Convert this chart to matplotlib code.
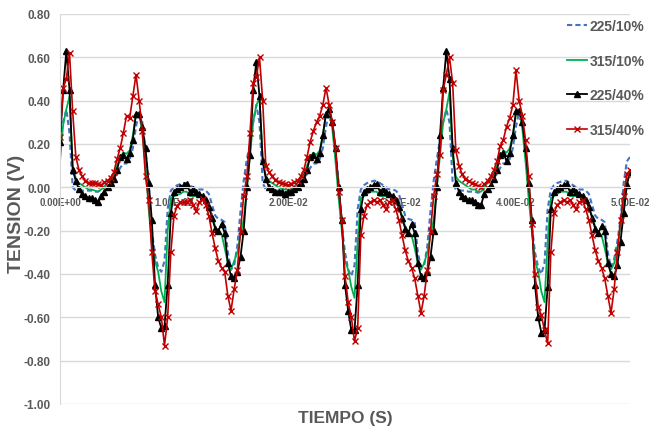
import numpy as np
import matplotlib
matplotlib.use('Agg')
import matplotlib.pyplot as plt

# muestras: 60 por ciclo de 60 Hz, 3 ciclos + punto final (0 a 0.05 s)
n_puntos = 181
tiempo = np.arange(n_puntos) * (0.05 / 180)

v_225_10 = [
    0.22, 0.30, 0.36, 0.25, 0.00, -0.015, -0.015, -0.015, -0.015, -0.015,
    -0.015, -0.02, -0.02, -0.01, 0.005, 0.02, 0.03, 0.045, 0.06, 0.09,
    0.11, 0.11, 0.13, 0.18, 0.28, 0.35, 0.30, 0.17, 0.02, -0.20,
    -0.31, -0.37, -0.39, -0.34, -0.10, -0.015, 0.00, 0.01, 0.015, 0.02,
    0.02, 0.01, 0.00, -0.005, -0.01, -0.01, -0.015, -0.03, -0.08, -0.13,
    -0.146, -0.15, -0.16, -0.30, -0.38, -0.36, -0.27, -0.11, 0.03, 0.13,
    0.20, 0.30, 0.38, 0.30, 0.02, -0.01, -0.01, -0.015, -0.015, -0.015,
    -0.015, -0.02, -0.02, -0.01, 0.005, 0.02, 0.03, 0.045, 0.06, 0.09,
    0.11, 0.11, 0.13, 0.18, 0.28, 0.35, 0.30, 0.17, 0.02, -0.18,
    -0.30, -0.38, -0.41, -0.36, -0.10, -0.01, 0.01, 0.02, 0.025, 0.03,
    0.03, 0.02, 0.01, 0.00, -0.01, -0.01, -0.015, -0.03, -0.08, -0.13,
    -0.146, -0.15, -0.16, -0.30, -0.37, -0.36, -0.27, -0.11, 0.03, 0.13,
    0.22, 0.30, 0.36, 0.30, 0.02, -0.01, -0.015, -0.015, -0.015, -0.02,
    -0.02, -0.02, -0.025, -0.02, 0.00, 0.02, 0.03, 0.045, 0.06, 0.09,
    0.11, 0.11, 0.13, 0.18, 0.28, 0.35, 0.30, 0.17, 0.02, -0.18,
    -0.30, -0.37, -0.40, -0.35, -0.10, -0.01, 0.01, 0.02, 0.025, 0.03,
    0.03, 0.02, 0.01, 0.00, -0.01, -0.01, -0.015, -0.03, -0.08, -0.13,
    -0.146, -0.15, -0.16, -0.30, -0.37, -0.33, -0.25, -0.15, 0.02, 0.12,
    0.14,
]

v_315_10 = [
    0.12, 0.29, 0.36, 0.42, 0.10, 0.04, 0.02, 0.01, 0.00, -0.01,
    -0.01, -0.015, -0.02, -0.01, 0.00, 0.02, 0.04, 0.06, 0.10, 0.14,
    0.16, 0.155, 0.17, 0.24, 0.34, 0.34, 0.25, 0.10, -0.10, -0.26,
    -0.34, -0.39, -0.48, -0.53, -0.20, -0.05, -0.04, -0.035, -0.03, -0.02,
    -0.02, -0.04, -0.04, -0.04, -0.04, -0.045, -0.055, -0.09, -0.13, -0.18,
    -0.21, -0.215, -0.28, -0.35, -0.38, -0.34, -0.30, -0.22, -0.15, -0.01,
    0.15, 0.30, 0.38, 0.41, 0.14, 0.05, 0.03, 0.02, 0.01, 0.00,
    -0.005, -0.01, -0.01, -0.01, 0.00, 0.02, 0.04, 0.06, 0.10, 0.14,
    0.16, 0.15, 0.17, 0.24, 0.34, 0.35, 0.27, 0.12, -0.05, -0.20,
    -0.34, -0.38, -0.46, -0.51, -0.25, -0.05, -0.04, -0.03, -0.02, -0.02,
    -0.02, -0.04, -0.04, -0.04, -0.04, -0.045, -0.055, -0.09, -0.13, -0.18,
    -0.21, -0.22, -0.28, -0.35, -0.38, -0.35, -0.30, -0.22, -0.15, 0.00,
    0.15, 0.30, 0.36, 0.44, 0.14, 0.05, 0.03, 0.02, 0.01, 0.00,
    -0.01, -0.01, -0.02, -0.02, 0.00, 0.02, 0.04, 0.06, 0.10, 0.14,
    0.17, 0.16, 0.18, 0.24, 0.34, 0.35, 0.27, 0.12, -0.05, -0.20,
    -0.34, -0.39, -0.48, -0.53, -0.25, -0.05, -0.04, -0.03, -0.02, -0.02,
    -0.02, -0.04, -0.04, -0.04, -0.04, -0.045, -0.055, -0.09, -0.13, -0.18,
    -0.21, -0.22, -0.28, -0.35, -0.38, -0.35, -0.28, -0.18, -0.08, 0.03,
    0.07,
]

v_225_40 = [
    0.21, 0.45, 0.63, 0.45, 0.08, 0.03, -0.01, -0.03, -0.04, -0.05,
    -0.05, -0.06, -0.07, -0.04, -0.02, 0.00, 0.02, 0.04, 0.08, 0.14,
    0.15, 0.13, 0.16, 0.22, 0.34, 0.34, 0.28, 0.18, 0.02, -0.15,
    -0.45, -0.60, -0.65, -0.64, -0.45, -0.12, -0.02, -0.01, 0.00, 0.01,
    0.015, -0.02, -0.01, -0.02, -0.03, -0.04, -0.06, -0.09, -0.14, -0.19,
    -0.20, -0.17, -0.21, -0.35, -0.41, -0.42, -0.39, -0.32, -0.20, 0.00,
    0.15, 0.45, 0.58, 0.42, 0.12, 0.04, 0.00, -0.01, -0.02, -0.02,
    -0.02, -0.03, -0.02, -0.02, -0.01, 0.00, 0.02, 0.04, 0.08, 0.14,
    0.15, 0.13, 0.16, 0.24, 0.34, 0.36, 0.30, 0.18, 0.00, -0.15,
    -0.45, -0.57, -0.66, -0.66, -0.45, -0.10, -0.02, -0.01, 0.00, 0.01,
    0.015, -0.02, -0.01, -0.02, -0.03, -0.04, -0.06, -0.09, -0.14, -0.19,
    -0.21, -0.17, -0.21, -0.35, -0.41, -0.42, -0.39, -0.32, -0.20, 0.00,
    0.24, 0.46, 0.63, 0.50, 0.18, 0.02, -0.02, -0.04, -0.05, -0.06,
    -0.06, -0.07, -0.08, -0.08, -0.03, -0.01, 0.01, 0.04, 0.08, 0.15,
    0.16, 0.12, 0.16, 0.24, 0.35, 0.35, 0.30, 0.18, 0.02, -0.15,
    -0.45, -0.60, -0.67, -0.66, -0.46, -0.10, -0.02, -0.01, 0.00, 0.01,
    0.015, -0.02, -0.01, -0.02, -0.03, -0.04, -0.06, -0.09, -0.14, -0.19,
    -0.21, -0.18, -0.20, -0.35, -0.40, -0.41, -0.36, -0.25, -0.12, 0.01,
    0.07,
]

v_315_40 = [
    0.23, 0.46, 0.50, 0.62, 0.35, 0.14, 0.08, 0.05, 0.03, 0.02,
    0.02, 0.02, 0.015, 0.01, 0.025, 0.03, 0.045, 0.07, 0.13, 0.18,
    0.25, 0.33, 0.32, 0.42, 0.52, 0.40, 0.26, 0.05, -0.06, -0.30,
    -0.48, -0.54, -0.60, -0.73, -0.60, -0.30, -0.13, -0.085, -0.07, -0.07,
    -0.07, -0.06, -0.08, -0.11, -0.07, -0.055, -0.08, -0.13, -0.21, -0.28,
    -0.34, -0.37, -0.39, -0.50, -0.57, -0.47, -0.38, -0.20, -0.04, 0.05,
    0.25, 0.48, 0.51, 0.60, 0.40, 0.10, 0.07, 0.05, 0.035, 0.025,
    0.02, 0.015, 0.01, 0.015, 0.025, 0.03, 0.05, 0.08, 0.14, 0.21,
    0.26, 0.30, 0.33, 0.38, 0.46, 0.38, 0.30, 0.18, -0.02, -0.15,
    -0.41, -0.53, -0.60, -0.71, -0.65, -0.22, -0.13, -0.08, -0.07, -0.06,
    -0.07, -0.06, -0.08, -0.10, -0.07, -0.06, -0.10, -0.15, -0.22, -0.29,
    -0.34, -0.37, -0.42, -0.50, -0.58, -0.50, -0.38, -0.20, -0.04, 0.06,
    0.15, 0.45, 0.52, 0.60, 0.48, 0.17, 0.10, 0.06, 0.04, 0.03,
    0.02, 0.015, 0.005, 0.00, 0.015, 0.03, 0.05, 0.08, 0.12, 0.19,
    0.22, 0.28, 0.32, 0.38, 0.54, 0.40, 0.33, 0.22, 0.05, -0.17,
    -0.40, -0.55, -0.59, -0.66, -0.72, -0.30, -0.12, -0.08, -0.07, -0.06,
    -0.07, -0.06, -0.08, -0.10, -0.07, -0.06, -0.10, -0.15, -0.22, -0.29,
    -0.34, -0.37, -0.42, -0.50, -0.58, -0.47, -0.30, -0.15, -0.04, 0.06,
    0.08,
]

series = ['225/10%', '315/10%', '225/40%', '315/40%']
y_ticks = [-1.0, -0.8, -0.6, -0.4, -0.2, 0.0, 0.2, 0.4, 0.6, 0.8]
x_ticks = [0, 0.01, 0.02, 0.03, 0.04, 0.05]
x_etiquetas = ['0.00E+00', '1.00E-02', '2.00E-02', '3.00E-02', '4.00E-02', '5.00E-02']

gris = '#595959'
plt.rcParams['font.family'] = ['Liberation Sans', 'DejaVu Sans']
plt.rcParams['font.weight'] = 'bold'

fig = plt.figure(figsize=(6.49, 4.31), dpi=100)
ax = fig.add_axes([60 / 649, 26 / 431, 570 / 649, 390 / 431])

ax.plot(tiempo, v_225_10, color='#4472C4', lw=1.5, ls=(0, (2.5, 1.5)), label=series[0])
ax.plot(tiempo, v_315_10, color='#00B050', lw=1.3, label=series[1])
ax.plot(tiempo, v_225_40, color='black', lw=1.3, marker='^', ms=4, label=series[2])
ax.plot(tiempo, v_315_40, color='#C00000', lw=1.2, marker='x', ms=4.5, mew=1, label=series[3])

ax.set_xlim(0, 0.05)
ax.set_ylim(-1.0, 0.8)
ax.set_yticks(y_ticks)
ax.set_yticklabels(['%.2f' % v for v in y_ticks])
ax.set_xticks(x_ticks)
ax.set_xticklabels(x_etiquetas)

ax.set_axisbelow(True)
ax.grid(axis='y', color='#d9d9d9', lw=1)
for lado in ['top', 'right']:
    ax.spines[lado].set_visible(False)
ax.spines['left'].set_color('#d9d9d9')
ax.spines['bottom'].set_position(('data', 0))
ax.spines['bottom'].set_color('#d9d9d9')
ax.tick_params(axis='y', length=0, pad=7, labelsize=8.5, labelcolor=gris)
ax.tick_params(axis='x', length=0, pad=7, labelsize=7, labelcolor=gris)

ax.set_ylabel('TENSION (V)', fontsize=14, color=gris, fontweight='bold', va='center')
ax.yaxis.set_label_coords(-0.077, 0.49)
ax.set_xlabel('TIEMPO (S)', fontsize=12.5, color=gris, fontweight='bold')
ax.xaxis.set_label_coords(0.5, -0.016)

leg = fig.legend(loc='upper left', bbox_to_anchor=(567 / 649, 1 - 20 / 431),
                 frameon=False, prop={'weight': 'bold', 'size': 10},
                 labelspacing=1.48, handlelength=1.45, handletextpad=0.15,
                 borderaxespad=0, borderpad=0)
for txt in leg.get_texts():
    txt.set_color(gris)

plt.savefig('out.png', dpi=100)
